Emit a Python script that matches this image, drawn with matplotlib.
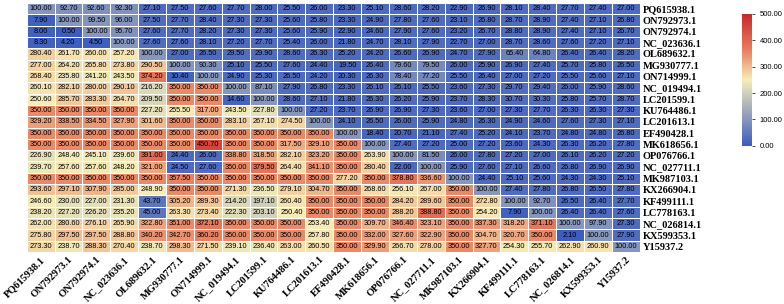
import numpy as np
import matplotlib
matplotlib.use('Agg')
import matplotlib.pyplot as plt
import seaborn as sns
from matplotlib.colors import LinearSegmentedColormap

#---------------------------------------------------------
# Dados
#---------------------------------------------------------
names = ['PQ615938.1', 'ON792973.1', 'ON792974.1', 'NC_023636.1', 'OL689632.1',
         'MG930777.1', 'ON714999.1', 'NC_019494.1', 'LC201599.1', 'KU764486.1',
         'LC201613.1', 'EF490428.1', 'MK618656.1', 'OP076766.1', 'NC_027711.1',
         'MK987103.1', 'KX266904.1', 'KF499111.1', 'LC778163.1', 'NC_026814.1',
         'KX599353.1', 'Y15937.2']

values = [
    [100.00, 92.70, 92.60, 92.30, 27.10, 27.50, 27.60, 27.70, 28.00, 25.50, 26.00, 23.30, 25.10, 28.60, 28.20, 22.90, 26.90, 28.10, 28.40, 27.70, 27.40, 27.00],
    [7.90, 100.00, 99.50, 96.00, 27.50, 27.70, 28.40, 27.30, 27.30, 25.60, 25.80, 23.30, 24.90, 27.80, 27.60, 23.10, 26.80, 28.70, 28.90, 27.40, 27.10, 26.80],
    [8.00, 0.50, 100.00, 95.70, 27.60, 27.70, 28.20, 27.30, 27.30, 25.60, 25.90, 22.90, 24.60, 27.90, 27.60, 23.20, 26.70, 28.80, 28.90, 27.40, 27.10, 26.70],
    [8.30, 4.20, 4.50, 100.00, 27.60, 27.60, 28.10, 27.20, 27.70, 25.40, 26.00, 21.80, 24.70, 28.10, 27.90, 22.70, 27.00, 28.70, 28.60, 27.60, 27.20, 27.10],
    [280.40, 261.70, 260.00, 257.20, 100.00, 27.00, 26.50, 29.50, 29.90, 28.60, 26.30, 25.20, 24.20, 26.60, 26.90, 24.70, 27.90, 65.40, 64.80, 26.40, 26.40, 28.20],
    [277.00, 264.20, 265.80, 273.80, 290.50, 100.00, 90.30, 25.10, 25.50, 27.60, 24.40, 19.50, 26.40, 79.60, 79.50, 26.00, 25.90, 26.90, 27.40, 25.70, 25.80, 26.50],
    [268.40, 235.80, 241.20, 243.50, 374.20, 10.40, 100.00, 24.90, 25.30, 26.50, 24.20, 20.30, 26.30, 78.40, 77.20, 25.50, 26.40, 27.00, 27.20, 25.50, 25.60, 27.10],
    [260.10, 282.10, 280.00, 290.10, 216.20, 350.00, 350.00, 100.00, 87.10, 27.90, 26.80, 23.30, 26.10, 26.10, 25.50, 23.60, 27.30, 29.70, 29.40, 26.00, 25.90, 28.60],
    [250.60, 285.70, 283.30, 264.70, 209.50, 350.00, 350.00, 14.60, 100.00, 28.60, 27.10, 21.80, 26.30, 26.20, 25.90, 23.70, 28.30, 30.70, 30.30, 25.80, 25.70, 28.70],
    [350.00, 350.00, 350.00, 350.00, 227.20, 255.50, 317.00, 243.50, 227.80, 100.00, 27.20, 23.70, 26.90, 26.90, 27.30, 23.60, 27.00, 27.30, 27.70, 26.30, 26.30, 27.30],
    [329.20, 338.50, 334.50, 327.90, 301.60, 350.00, 350.00, 283.10, 267.10, 274.50, 100.00, 24.10, 26.50, 26.00, 25.90, 24.80, 26.30, 24.90, 24.60, 27.60, 27.30, 27.10],
    [350.00, 350.00, 350.00, 350.00, 350.00, 350.00, 350.00, 350.00, 350.00, 350.00, 350.00, 100.00, 18.40, 20.70, 21.10, 27.40, 25.20, 24.10, 23.70, 24.80, 24.80, 26.80],
    [350.00, 350.00, 350.00, 350.00, 350.00, 350.00, 450.70, 350.00, 350.00, 317.50, 329.10, 350.00, 100.00, 27.40, 27.20, 25.00, 27.20, 23.60, 24.30, 26.30, 26.20, 27.80],
    [226.90, 248.40, 245.10, 239.60, 391.00, 24.40, 26.00, 338.80, 318.50, 282.10, 323.20, 350.00, 263.90, 100.00, 81.50, 26.00, 27.80, 27.20, 27.00, 26.10, 26.20, 27.20],
    [239.70, 257.60, 257.60, 248.20, 321.00, 24.50, 27.60, 350.00, 379.50, 264.40, 341.10, 350.00, 280.40, 22.00, 100.00, 25.90, 27.60, 27.10, 26.60, 26.80, 26.90, 26.90],
    [350.00, 350.00, 350.00, 350.00, 350.00, 357.50, 350.00, 350.00, 350.00, 350.00, 350.00, 277.20, 350.00, 378.80, 336.60, 100.00, 24.40, 25.10, 25.60, 24.30, 24.30, 25.10],
    [293.60, 297.10, 307.90, 285.00, 248.90, 350.00, 350.00, 271.30, 236.50, 279.10, 304.70, 350.00, 268.60, 256.10, 267.00, 350.00, 100.00, 27.40, 27.80, 26.80, 26.50, 27.80],
    [246.60, 230.00, 227.00, 231.30, 43.70, 305.20, 289.30, 214.20, 197.10, 260.40, 350.00, 350.00, 350.00, 284.20, 289.60, 350.00, 272.80, 100.00, 92.70, 26.50, 26.40, 27.70],
    [238.20, 227.20, 226.20, 235.20, 45.00, 263.30, 273.40, 222.30, 203.10, 250.40, 350.00, 350.00, 350.00, 288.20, 388.80, 350.00, 254.20, 7.90, 100.00, 26.40, 26.40, 27.60],
    [262.00, 280.60, 276.10, 265.90, 322.80, 351.00, 372.10, 350.00, 350.00, 350.00, 253.40, 350.00, 309.70, 346.40, 323.10, 350.00, 337.30, 318.20, 371.10, 100.00, 97.90, 27.30],
    [275.80, 297.50, 297.50, 288.80, 340.20, 342.70, 360.20, 350.00, 350.00, 350.00, 257.80, 350.00, 332.00, 327.60, 322.90, 350.00, 304.70, 320.70, 350.00, 2.10, 100.00, 27.90],
    [273.30, 238.70, 288.30, 270.40, 238.70, 298.30, 271.50, 239.10, 236.40, 263.00, 260.50, 350.00, 329.90, 266.70, 278.00, 350.00, 327.70, 254.30, 255.70, 262.90, 260.90, 100.00],
]

cbar_ticks = [0, 100, 200, 300, 400, 500]

#---------------------------------------------------------
# Plot
#---------------------------------------------------------
cmap = LinearSegmentedColormap.from_list(
    'bwr_custom',
    [(0.0, '#3b5cc0'), (0.5, '#f6edb7'), (0.72, '#e9805f'), (1.0, '#c8282a')])

M = np.array(values)

fig = plt.figure(figsize=(7.84, 3.04), dpi=100)
ax = fig.add_axes([0.034, 0.171, 0.782, 0.819])
cax = fig.add_axes([0.946, 0.52, 0.013, 0.435])

sns.heatmap(M, ax=ax, cbar_ax=cax, cmap=cmap, vmin=0, vmax=500,
            annot=True, fmt='.2f', annot_kws={'size': 5.3, 'color': 'black', 'family': 'Liberation Sans'},
            linewidths=0.6, linecolor='white',
            xticklabels=names, yticklabels=names)

ax.yaxis.tick_right()
ax.set_yticklabels(names, rotation=0, fontsize=7.5, fontweight='bold', family='Liberation Serif')
ax.set_xticklabels(names, rotation=45, ha='right', rotation_mode='anchor',
                   fontsize=7.5, fontweight='bold', family='Liberation Serif')
ax.tick_params(axis='both', length=0, pad=2)

cax.set_yticks(cbar_ticks)
cax.set_yticklabels(['%.2f' % t for t in cbar_ticks], fontsize=5.5, family='Liberation Sans')
cax.tick_params(length=2, width=0.5)

fig.savefig('out.png', dpi=100)
